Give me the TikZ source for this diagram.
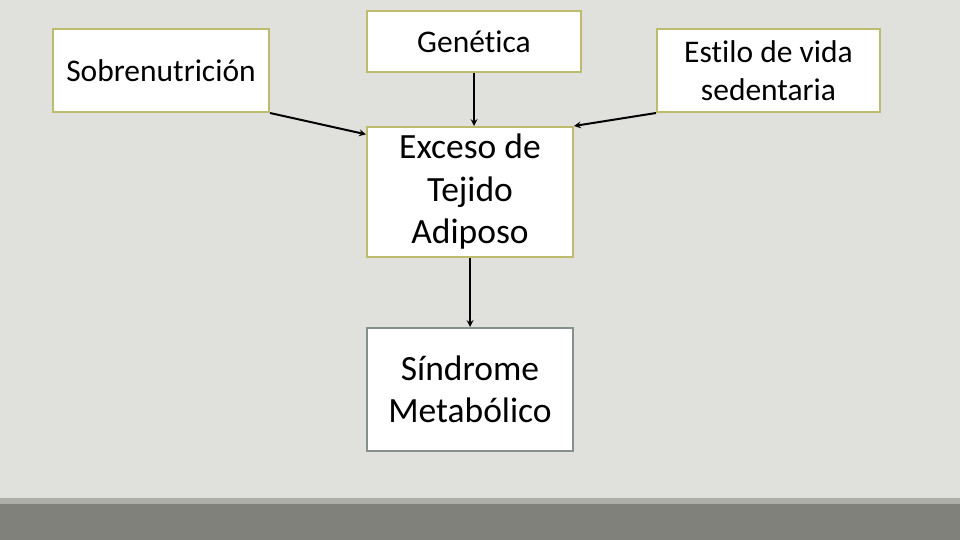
\documentclass[tikz,border=0pt]{standalone}
\usepackage{fontspec}
\setmainfont[Ligatures=NoCommon]{Carlito}
\definecolor{fondo}{HTML}{E0E1DC}
\definecolor{oliva}{HTML}{BDBC6E}
\definecolor{gris}{HTML}{85908F}
\definecolor{franja}{HTML}{ADAEA8}
\definecolor{barra}{HTML}{80817A}
\tikzset{
  caja/.style={draw=oliva, line width=2pt, fill=white, align=center, inner sep=0pt,
    font=\fontsize{31.5}{38}\selectfont},
  cajagrande/.style={caja, font=\fontsize{35.5}{42.5}\selectfont},
  flecha/.style={->, >=stealth, line width=2pt}
}
\begin{document}
\begin{tikzpicture}[x=1pt,y=-1pt]
	\fill[fondo] (0,0) rectangle (960,540);
	\fill[franja] (0,498) rectangle (960,504);
	\fill[barra] (0,504) rectangle (960,540);
	\useasboundingbox (0,0) rectangle (960,540);
    % causas
    \node[caja, minimum width=216pt, minimum height=83pt] (sobre) at (161,70.5) {Sobrenutrición};
    \node[caja, minimum width=214pt, minimum height=61pt] (genetica) at (474,41.5) {Genética};
    \node[caja, minimum width=223pt, minimum height=83pt] (estilo) at (768.5,70.5) {Estilo de vida\\sedentaria};
    % efecto
    \node[cajagrande, minimum width=206pt, minimum height=130pt, text depth=6pt] (exceso) at (470,192) {Exceso de\\Tejido\\Adiposo};
    \node[cajagrande, draw=gris, minimum width=206pt, minimum height=123pt] (sindrome) at (470,389.5) {Síndrome\\Metabólico};
    \draw[flecha] (sobre.south east) -- (exceso.151);
    \draw[flecha] (genetica.south) -- (genetica.south |- exceso.north);
    \draw[flecha] (estilo.south west) -- (exceso.north east);
    \draw[flecha] (exceso.south) -- (sindrome.north);
	\end{tikzpicture}
\end{document}
